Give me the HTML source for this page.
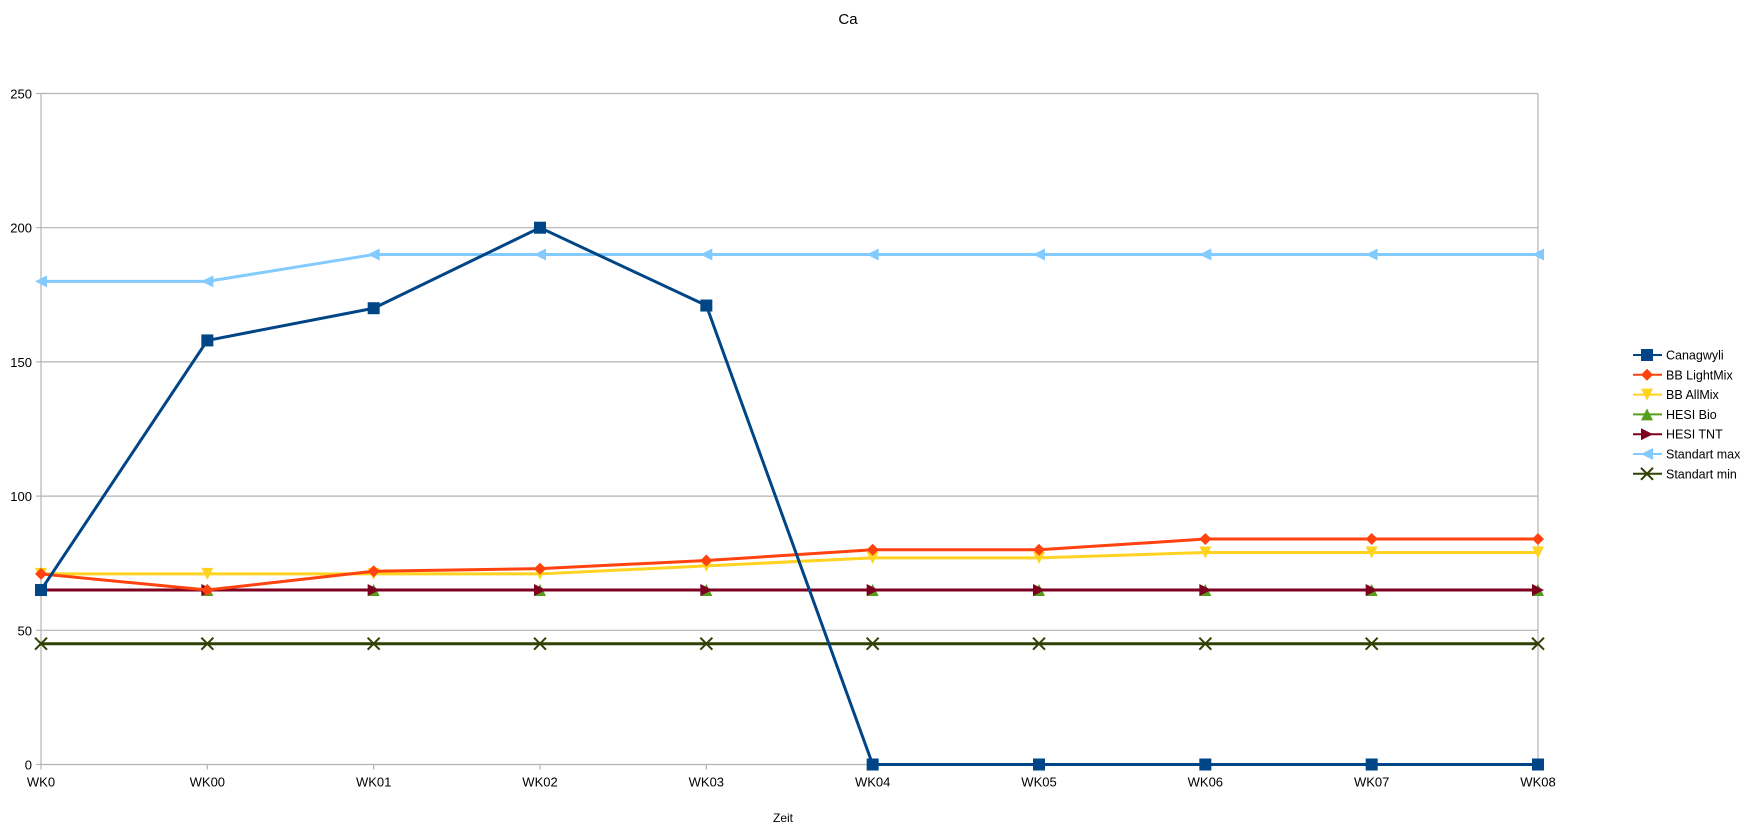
<!DOCTYPE html>
<html><head><meta charset="utf-8"><style>
html,body{margin:0;padding:0;background:#fff;}
svg{display:block;font-family:"Liberation Sans",sans-serif;}
</style></head><body>
<svg id="chart" width="1747" height="830" viewBox="0 0 1747 830">
<text x="848" y="24" font-size="15" text-anchor="middle">Ca</text>
<g id="grid"></g>
<g id="series"></g>
<g id="legend"></g>
<text x="783" y="822" font-size="12" text-anchor="middle">Zeit</text>
</svg>
<script>
const categories = ["WK0","WK00","WK01","WK02","WK03","WK04","WK05","WK06","WK07","WK08"];
const yTicks = [0,50,100,150,200,250];
const seriesNames = ["Canagwyli","BB LightMix","BB AllMix","HESI Bio","HESI TNT","Standart max","Standart min"];
const canagwyli = [65,158,170,200,171,0,0,0,0,0];
const bbLightMix = [71,65,72,73,76,80,80,84,84,84];
const bbAllMix = [71,71,71,71,74,77,77,79,79,79];
const hesiBio = [65,65,65,65,65,65,65,65,65,65];
const hesiTnt = [65,65,65,65,65,65,65,65,65,65];
const standartMax = [180,180,190,190,190,190,190,190,190,190];
const standartMin = [45,45,45,45,45,45,45,45,45,45];

const NS="http://www.w3.org/2000/svg";
const L=41,R=1538,T=93.5,B=764.5,YMAX=250;
const xs=i=>L+i*(R-L)/(categories.length-1);
const ys=v=>B-v/YMAX*(B-T);
function mk(tag,attrs,parent){const e=document.createElementNS(NS,tag);for(const k in attrs)e.setAttribute(k,attrs[k]);parent.appendChild(e);return e;}
const grid=document.getElementById('grid');
yTicks.forEach(t=>{
  const l=mk('line',{x1:L-5,x2:R,y1:ys(t),y2:ys(t),stroke:'#b3b3b3','stroke-width':1.2},grid);
  
  
  const tx=mk('text',{x:L-9,y:ys(t)+5,'font-size':13,'text-anchor':'end'},grid);
  tx.textContent=t;
  
  
});
const la=mk('line',{x1:L,x2:L,y1:T,y2:B,stroke:'#b3b3b3','stroke-width':1.2},grid);


const ra=mk('line',{x1:R,x2:R,y1:T,y2:B,stroke:'#b3b3b3','stroke-width':1.2},grid);


categories.forEach((c,i)=>{
  const l=mk('line',{x1:xs(i),x2:xs(i),y1:B,y2:B+5,stroke:'#b3b3b3','stroke-width':1.2},grid);
  
  
  const tx=mk('text',{x:xs(i),y:B+22,'font-size':13,'text-anchor':'middle'},grid);
  tx.textContent=c;
  
  
});
function marker(shape,x,y,color,parent){
  const s=6;let e;
  if(shape==='square')e=mk('rect',{x:x-s,y:y-s,width:2*s,height:2*s,fill:color},parent);
  else if(shape==='diamond')e=mk('polygon',{points:`${x},${y-s} ${x+s},${y} ${x},${y+s} ${x-s},${y}`,fill:color},parent);
  else if(shape==='down')e=mk('polygon',{points:`${x-s},${y-s} ${x+s},${y-s} ${x},${y+s}`,fill:color},parent);
  else if(shape==='up')e=mk('polygon',{points:`${x-s},${y+s} ${x+s},${y+s} ${x},${y-s}`,fill:color},parent);
  else if(shape==='right')e=mk('polygon',{points:`${x-s},${y-s} ${x-s},${y+s} ${x+s},${y}`,fill:color},parent);
  else if(shape==='left')e=mk('polygon',{points:`${x+s},${y-s} ${x+s},${y+s} ${x-s},${y}`,fill:color},parent);
  else e=mk('path',{d:`M${x-s} ${y-s}L${x+s} ${y+s}M${x-s} ${y+s}L${x+s} ${y-s}`,stroke:color,'stroke-width':2,fill:'none'},parent);
  return e;
}
const defs=[
 [standartMin,'#314004','x'],
 [standartMax,'#83caff','left'],
 [hesiBio,'#579d1c','up'],
 [hesiTnt,'#7e0021','right'],
 [bbAllMix,'#ffd320','down'],
 [bbLightMix,'#ff420e','diamond'],
 [canagwyli,'#004586','square']
];
const names=[seriesNames[6],seriesNames[5],seriesNames[3],seriesNames[4],seriesNames[2],seriesNames[1],seriesNames[0]];
const sg=document.getElementById('series');
defs.forEach(([vals,color,shape],k)=>{
  const g=mk('g',{},sg);
  
  
  const p=mk('polyline',{points:vals.map((v,i)=>xs(i)+','+ys(v)).join(' '),fill:'none',stroke:color,'stroke-width':3,'stroke-linejoin':'round'},g);
  
  
  vals.forEach((v,i)=>{
    const m=marker(shape,xs(i),ys(v),color,g);
    
    
  });
});
const lg=document.getElementById('legend');
const legColors=['#004586','#ff420e','#ffd320','#579d1c','#7e0021','#83caff','#314004'];
const legShapes=['square','diamond','down','up','right','left','x'];
seriesNames.forEach((n,i)=>{
  const y=355+i*19.8;
  const g=mk('g',{},lg);
  
  
  mk('line',{x1:1633,x2:1662,y1:y,y2:y,stroke:legColors[i],'stroke-width':2},g);
  marker(legShapes[i],1647,y,legColors[i],g);
  const t=mk('text',{x:1666,y:y+4.5,'font-size':12.5},g);
  t.textContent=n;
});
</script>
</body></html>
